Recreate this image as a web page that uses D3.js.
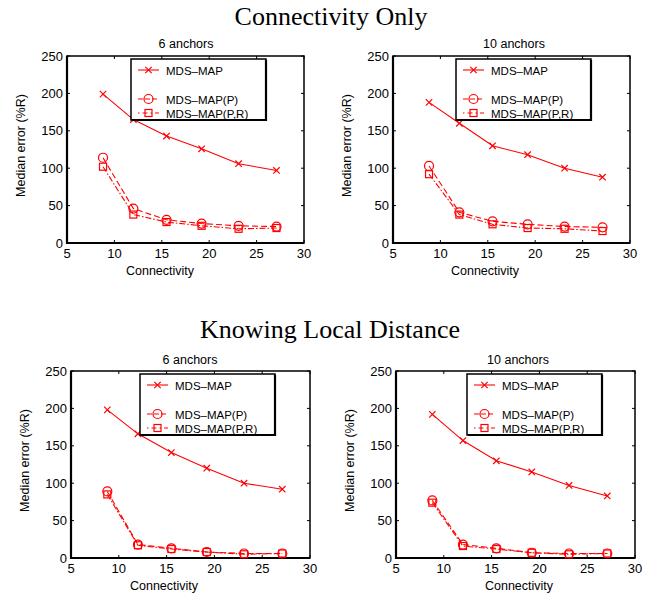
<!DOCTYPE html>
<html>
<head>
<meta charset="utf-8">
<script src="https://cdn.jsdelivr.net/npm/d3@7"></script>
<style>
  html, body { margin: 0; padding: 0; background: #fff; }
  svg { display: block; }
  text { font-family: "Liberation Sans", Arial, Helvetica, sans-serif; fill: #000; }
  .big { font-family: "Liberation Serif", "Times New Roman", serif; }
</style>
</head>
<body>
<svg id="chart" width="652" height="597"></svg>
<script>
// ---- data ----
const connectivity = [8.8, 12.0, 15.5, 19.2, 23.1, 27.1];
const seriesNames = ["MDS–MAP", "MDS–MAP(P)", "MDS–MAP(P,R)"];
const panelTitles = ["6 anchors", "10 anchors", "6 anchors", "10 anchors"];
const sectionTitles = ["Connectivity Only", "Knowing Local Distance"];
const xTicks = [5, 10, 15, 20, 25, 30];
const yTicks = [0, 50, 100, 150, 200, 250];
const xLabel = "Connectivity";
const yLabel = "Median error (%R)";

// Connectivity only, 6 anchors
const co6_mds  = [199, 165, 143, 126, 106, 97];
const co6_p    = [114, 46, 31, 26, 23, 22];
const co6_pr   = [102, 38, 28, 23, 19, 20];
// Connectivity only, 10 anchors
const co10_mds = [188, 160, 130, 118, 100, 88];
const co10_p   = [103, 41, 29, 25, 22, 21];
const co10_pr  = [92, 38, 25, 20, 19, 16];
// Knowing local distance, 6 anchors
const ld6_mds  = [198, 166, 141, 120, 100, 92];
const ld6_p    = [89, 18, 13, 8, 6, 6];
const ld6_pr   = [85, 17, 12, 8, 5, 6];
// Knowing local distance, 10 anchors
const ld10_mds = [192, 157, 130, 115, 97, 83];
const ld10_p   = [77, 18, 13, 7, 6, 6];
const ld10_pr  = [74, 16, 12, 7, 5, 6];

const panelSeries = [
  [co6_mds, co6_p, co6_pr],
  [co10_mds, co10_p, co10_pr],
  [ld6_mds, ld6_p, ld6_pr],
  [ld10_mds, ld10_p, ld10_pr]
];

// ---- layout ----
const layout = [
  { l: 67,  r: 304, t: 56,  b: 243, xlab: 160, tx: 186, ty: 48,  lgx: 131 },
  { l: 393, r: 630, t: 56,  b: 243, xlab: 485, tx: 514, ty: 48,  lgx: 456 },
  { l: 71,  r: 310, t: 371, b: 558, xlab: 164, tx: 190, ty: 364, lgx: 140 },
  { l: 396, r: 635, t: 371, b: 558, xlab: 519, tx: 518, ty: 364, lgx: 467 }
];
const red = "#ff0000";
const dashes = [null, "6,3", "6,2,1.5,2"];

const svg = d3.select("#chart");

svg.append("text").attr("class", "big").attr("x", 331).attr("y", 25)
  .attr("text-anchor", "middle").style("font-size", "26px").text(sectionTitles[0]);
svg.append("text").attr("class", "big").attr("x", 330).attr("y", 338)
  .attr("text-anchor", "middle").style("font-size", "26px").text(sectionTitles[1]);

function marker(g, type, cx, cy) {
  if (type === 0) {
    const s = 3.2;
    g.append("path").attr("d", `M${cx-s},${cy-s}L${cx+s},${cy+s}M${cx-s},${cy+s}L${cx+s},${cy-s}`)
      .attr("stroke", red).attr("stroke-width", 1.2).attr("fill", "none");
  } else if (type === 1) {
    g.append("circle").attr("cx", cx).attr("cy", cy).attr("r", 4.5)
      .attr("stroke", red).attr("stroke-width", 1.2).attr("fill", "none");
  } else {
    g.append("rect").attr("x", cx - 3.5).attr("y", cy - 3.5).attr("width", 7).attr("height", 7)
      .attr("stroke", red).attr("stroke-width", 1.2).attr("fill", "none");
  }
}

layout.forEach((L, pi) => {
  const g = svg.append("g");
  const x = d3.scaleLinear().domain([5, 30]).range([L.l, L.r]);
  const y = d3.scaleLinear().domain([0, 250]).range([L.b, L.t]);

  // ticks inward on all four sides
  const tl = 3;
  xTicks.forEach(v => {
    g.append("line").attr("x1", x(v)).attr("x2", x(v)).attr("y1", L.b).attr("y2", L.b - tl).attr("stroke", "#000");
    g.append("line").attr("x1", x(v)).attr("x2", x(v)).attr("y1", L.t).attr("y2", L.t + tl).attr("stroke", "#000");
    g.append("text").attr("x", x(v)).attr("y", L.b + 15).attr("text-anchor", "middle")
      .style("font-size", "13px").text(v);
  });
  yTicks.forEach(v => {
    g.append("line").attr("y1", y(v)).attr("y2", y(v)).attr("x1", L.l).attr("x2", L.l + tl).attr("stroke", "#000");
    g.append("line").attr("y1", y(v)).attr("y2", y(v)).attr("x1", L.r).attr("x2", L.r - tl).attr("stroke", "#000");
    g.append("text").attr("x", L.l - 4).attr("y", y(v) + 4.5).attr("text-anchor", "end")
      .style("font-size", "13px").text(v);
  });

  // box
  g.append("rect").attr("x", L.l).attr("y", L.t).attr("width", L.r - L.l).attr("height", L.b - L.t)
    .attr("fill", "none").attr("stroke", "#000").attr("stroke-width", 1.5);
  g.append("path").attr("d", `M${L.l},${L.t}V${L.b}H${L.r}`)
    .attr("fill", "none").attr("stroke", "#000").attr("stroke-width", 2.2);

  // labels
  g.append("text").attr("x", L.tx).attr("y", L.ty).attr("text-anchor", "middle")
    .style("font-size", "12.5px").text(panelTitles[pi]);
  g.append("text").attr("x", L.xlab).attr("y", L.b + 32).attr("text-anchor", "middle")
    .style("font-size", "12.5px").text(xLabel);
  const yc = (L.t + L.b) / 2 - 4;
  g.append("text").attr("transform", `translate(${L.l - 42},${yc}) rotate(-90)`)
    .attr("text-anchor", "middle").style("font-size", "12.5px").text(yLabel);

  // series
  const line = d3.line().x((d, i) => x(connectivity[i])).y(d => y(d));
  panelSeries[pi].forEach((vals, si) => {
    const p = g.append("path").attr("d", line(vals)).attr("fill", "none")
      .attr("stroke", red).attr("stroke-width", 1.1);
    if (dashes[si]) p.attr("stroke-dasharray", dashes[si]);
    vals.forEach((v, i) => marker(g, si, x(connectivity[i]), y(v)));
  });

  // legend
  const lg = g.append("g");
  const lx = L.lgx, ly = L.t + 3, lw = 135, lh = 61;
  lg.append("rect").attr("x", lx).attr("y", ly).attr("width", lw).attr("height", lh)
    .attr("fill", "#fff").attr("stroke", "#000").attr("stroke-width", 1.5);
  lg.append("path").attr("d", `M${lx + lw},${ly + 1}V${ly + lh}H${lx + 1}`)
    .attr("fill", "none").attr("stroke", "#000").attr("stroke-width", 2.2);
  const rowY = [11, 40, 54];
  seriesNames.forEach((name, si) => {
    const cy = ly + rowY[si];
    const ln = lg.append("line").attr("x1", lx + 7).attr("x2", lx + 28).attr("y1", cy).attr("y2", cy)
      .attr("stroke", red).attr("stroke-width", 1.1);
    if (dashes[si]) ln.attr("stroke-dasharray", si === 2 ? "1.5,3,5,3" : "5,2");
    marker(lg, si, lx + 17.5, cy);
    lg.append("text").attr("x", lx + 35).attr("y", cy + 4.5).style("font-size", "11.5px").text(name);
  });
});
</script>
</body>
</html>
